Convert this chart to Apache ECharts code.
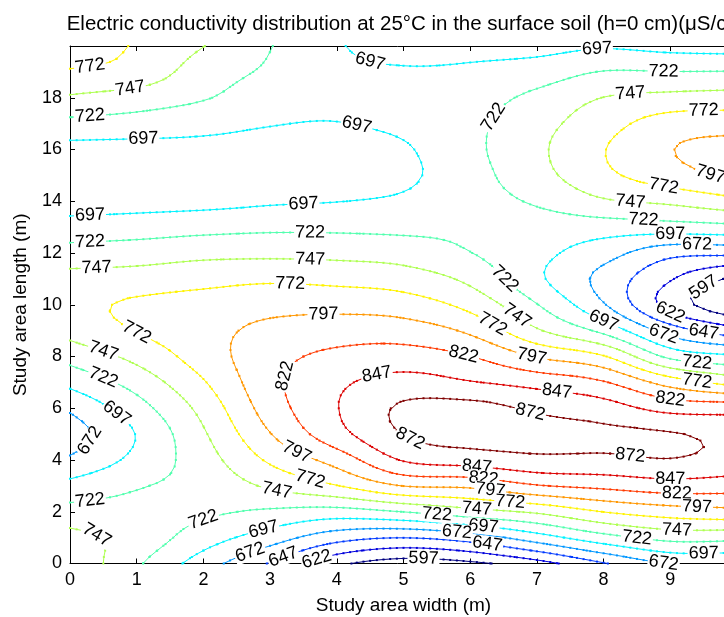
<!DOCTYPE html>
<html>
<head>
<meta charset="utf-8">
<script src="https://cdn.jsdelivr.net/npm/echarts/dist/echarts.min.js"></script>
<style>html,body{margin:0;padding:0;background:#fff}#chart{width:724px;height:617px}</style>
</head>
<body>
<div id="chart"></div>
<script>
// ---- data (values in µS/cm on a 1 m grid) ----
const xCoords = [0,1,2,3,4,5,6,7,8,9,10];
const yCoords = [0,1,2,3,4,5,6,7,8,9,10,11,12,13,14,15,16,17,18,19,20];
// each array: value at x = const, for y = 0..20
const zAtX0  = [768,755,731,705,676,660,676,704,731,755,764,755,732,707,686,679,689,715,744,769,794];
const zAtX1  = [726,737,730,720,704,698,712,732,754,773,776,758,735,710,688,681,689,711,736,762,769];
const zAtX2  = [684,709,726,730,736,744,755,770,784,788,782,764,740,714,690,684,691,704,724,735,747.5];
const zAtX3  = [645,684,718,751,776,796,809,815,813,804,788,768,741,717,694,686,690,698,708,718,723];
const zAtX4  = [603,657,712,771,807,838,846,842,828,810,789,765,740,717,696.5,688,690,696.5,702,702,699];
const zAtX5  = [585,647.5,722.5,797.5,849,872.5,876,856,833,809,784,759.5,736,716,701,692.5,694.5,702,706,699,690];
const zAtX6  = [592,659,738,802,858,882,880,848.5,822.5,792,764,741,722.5,717,713,713,716,716,712,701,690];
const zAtX7  = [612,685.5,751,820,866,880,868,838,795,750,723,702,704,711,725,738,742,738,728,709,688];
const zAtX8  = [645,712.5,772.5,828,866.5,877,858,824,774,715,674,664,682.5,709.5,744,766,771,762,747.5,723,694];
const zAtX9  = [673,730,784.5,835.5,871,874,838.5,786,716,660.5,612,624,655,711.5,752,786,796,784,754,722.5,688];
const zAtX10 = [675,729,790,833,862,862,836,761,700,630,575,590,653,715.5,765,803,806,787,757,723,685];
const contourLevels = [597,622,647,672,697,722,747,772,797,822,847,872];
// inline labels: [x (m), y (m), level]
const labelAnchors = [
 [0.30,19.25,772],[0.85,18.36,747],[0.33,17.24,722],[1.09,16.47,697],[4.53,19.32,697],[7.90,19.75,697],
 [8.91,18.98,722],[8.38,18.09,747],[9.45,17.51,772],[9.57,15.12,797],[8.91,14.46,772],[8.38,14.03,747],
 [8.62,13.30,722],[9.00,12.80,697],[9.43,12.41,672],[4.30,16.93,697],[6.34,17.12,722],[0.30,13.45,697],
 [3.52,13.84,697],[0.33,12.41,722],[3.57,12.68,722],[0.37,11.41,747],[3.57,11.72,747],[3.25,10.79,772],
 [1.02,8.90,772],[3.75,9.71,797],[6.57,10.95,722],[6.64,9.56,747],[6.34,9.09,772],[8.01,9.21,697],
 [8.91,8.71,672],[9.04,9.59,622],[9.45,8.44,647],[9.52,10.56,597],[0.55,8.17,747],[0.49,7.09,722],
 [0.70,6.00,697],[0.30,4.69,672],[3.36,7.16,822],[5.94,7.97,822],[6.91,7.97,797],[4.65,7.16,847],
 [7.32,6.43,847],[9.04,6.35,822],[9.36,7.66,722],[9.42,6.97,772],[6.93,5.81,872],[5.07,4.69,872],
 [8.44,4.00,872],[3.45,4.58,797],[3.57,3.38,772],[3.12,2.88,747],[6.12,3.84,847],[6.21,3.22,822],
 [6.33,2.88,797],[6.55,2.34,772],[6.12,2.10,747],[5.52,1.95,722],[6.19,1.49,697],[5.77,1.22,672],
 [6.27,0.83,647],[5.32,0.41,597],[3.67,0.25,622],[3.18,0.33,647],[2.67,0.56,672],[8.97,3.19,847],
 [9.13,2.53,822],[9.43,2.10,797],[9.06,1.10,747],[8.55,0.98,722],[9.48,0.33,697],[8.89,0.14,672],
 [0.27,2.45,722],[0.39,0.91,747],[1.98,1.76,722],[2.88,1.53,697]
];

// ---- layout ----
const GRID_LEFT = 70, GRID_TOP = 46, GRID_W = 667, GRID_H = 517.5;
const X_MIN = 0, X_MAX = 10, Y_MIN = 0, Y_MAX = 20;
const FONT = '"Liberation Sans", Arial, Helvetica, sans-serif';

const zCols = [zAtX0,zAtX1,zAtX2,zAtX3,zAtX4,zAtX5,zAtX6,zAtX7,zAtX8,zAtX9,zAtX10];
const nX = xCoords.length, nY = yCoords.length;
function Z(i, j) {
  if (i < 0) return 2 * Z(0, j) - Z(1, j);
  if (i > nX - 1) return 2 * Z(nX - 1, j) - Z(nX - 2, j);
  if (j < 0) return 2 * Z(i, 0) - Z(i, 1);
  if (j > nY - 1) return 2 * Z(i, nY - 1) - Z(i, nY - 2);
  return zCols[i][j];
}
function cr(p0, p1, p2, p3, t) {
  return p1 + 0.5 * t * (p2 - p0 + t * (2 * p0 - 5 * p1 + 4 * p2 - p3 + t * (3 * (p1 - p2) + p3 - p0)));
}
const dxG = xCoords[1] - xCoords[0], dyG = yCoords[1] - yCoords[0];
function sampleField(x, y) {
  const gx = (x - xCoords[0]) / dxG, gy = (y - yCoords[0]) / dyG;
  let i = Math.floor(gx), j = Math.floor(gy);
  if (i > nX - 2) i = nX - 2; if (j > nY - 2) j = nY - 2;
  const tx = gx - i, ty = gy - j;
  const r = [];
  for (let m = -1; m <= 2; m++) {
    r.push(cr(Z(i - 1, j + m), Z(i, j + m), Z(i + 1, j + m), Z(i + 2, j + m), tx));
  }
  return cr(r[0], r[1], r[2], r[3], ty);
}

const FX = [], FY = [];
for (let k = 0; k <= 100; k++) FX.push(xCoords[0] + k * (xCoords[nX - 1] - xCoords[0]) / 100);
for (let k = 0; k <= 80; k++) FY.push(yCoords[0] + k * (yCoords[nY - 1] - yCoords[0]) / 80);
const F = FY.map(y => FX.map(x => sampleField(x, y)));

function contour(level) {
  const pts = {}, adj = {};
  const above = v => v >= level;
  function pt(key, x1, y1, v1, x2, y2, v2) {
    if (!(key in pts)) { const t = (level - v1) / (v2 - v1); pts[key] = [x1 + t * (x2 - x1), y1 + t * (y2 - y1)]; }
    return key;
  }
  function seg(a, b) { (adj[a] = adj[a] || []).push(b); (adj[b] = adj[b] || []).push(a); }
  for (let j = 0; j < FY.length - 1; j++) {
    for (let i = 0; i < FX.length - 1; i++) {
      const x0 = FX[i], x1 = FX[i + 1], y0 = FY[j], y1 = FY[j + 1];
      const v00 = F[j][i], v10 = F[j][i + 1], v11 = F[j + 1][i + 1], v01 = F[j + 1][i];
      const e = {};
      if (above(v00) !== above(v10)) e.b = pt('h' + i + '_' + j, x0, y0, v00, x1, y0, v10);
      if (above(v10) !== above(v11)) e.r = pt('v' + (i + 1) + '_' + j, x1, y0, v10, x1, y1, v11);
      if (above(v01) !== above(v11)) e.t = pt('h' + i + '_' + (j + 1), x0, y1, v01, x1, y1, v11);
      if (above(v00) !== above(v01)) e.l = pt('v' + i + '_' + j, x0, y0, v00, x0, y1, v01);
      const ks = Object.keys(e);
      if (ks.length === 2) seg(e[ks[0]], e[ks[1]]);
      else if (ks.length === 4) {
        const c = (v00 + v10 + v11 + v01) / 4;
        if (above(v00) === above(c)) { seg(e.b, e.r); seg(e.t, e.l); }
        else { seg(e.l, e.b); seg(e.r, e.t); }
      }
    }
  }
  const visited = new Set(), lines = [];
  function walk(start) {
    const line = []; let cur = start;
    while (cur !== undefined && !visited.has(cur)) {
      visited.add(cur); line.push(pts[cur]);
      const nb = adj[cur].filter(k => !visited.has(k));
      if (nb.length === 0) {
        if (line.length > 2 && adj[cur].includes(start)) line.push(pts[start]);
        break;
      }
      cur = nb[0];
    }
    return line;
  }
  for (const k in adj) if (adj[k].length === 1 && !visited.has(k)) lines.push(walk(k));
  for (const k in adj) if (!visited.has(k)) lines.push(walk(k));
  return lines.filter(l => l.length > 1);
}

function jet(t) {
  const c = v => Math.round(255 * Math.max(0, Math.min(1, v)));
  const r = c(1.5 - Math.abs(4 * t - 3)), g = c(1.5 - Math.abs(4 * t - 2)), b = c(1.5 - Math.abs(4 * t - 1));
  return 'rgb(' + r + ',' + g + ',' + b + ')';
}

const SX = GRID_W / (X_MAX - X_MIN), SY = GRID_H / (Y_MAX - Y_MIN);
const series = [];
const linesByLevel = {};
contourLevels.forEach((L, k) => {
  const color = jet(k / (contourLevels.length - 1));
  const lines = contour(L);
  linesByLevel[L] = lines;
  lines.forEach(line => {
    series.push({
      type: 'line', data: line, silent: true, animation: false, z: 2,
      showSymbol: true, symbol: 'rect', symbolSize: 2,
      lineStyle: { color: color, width: 1 }, itemStyle: { color: color },
      emphasis: { disabled: true }, clip: true
    });
  });
});

const labelData = labelAnchors.map(([lx, ly, L]) => {
  let best = null, bd = Infinity;
  (linesByLevel[L] || []).forEach(line => {
    line.forEach((p, idx) => {
      const d = Math.hypot((p[0] - lx) * SX, (p[1] - ly) * SY);
      if (d < bd) { bd = d; best = { line, idx }; }
    });
  });
  let px = lx, py = ly, rot = 0;
  if (best && bd < 40) {
    const { line, idx } = best;
    px = line[idx][0]; py = line[idx][1];
    const a = line[Math.max(0, idx - 3)], b = line[Math.min(line.length - 1, idx + 3)];
    let ang = Math.atan2((b[1] - a[1]) * SY, (b[0] - a[0]) * SX) * 180 / Math.PI;
    if (ang > 90) ang -= 180; if (ang < -90) ang += 180;
    rot = ang;
  }
  return { value: [px, py], label: { rotate: rot, formatter: String(L) } };
});
series.push({
  type: 'scatter', data: labelData, symbolSize: 1, itemStyle: { color: 'rgba(0,0,0,0)' }, z: 5,
  silent: true, animation: false, clip: false,
  label: { show: true, position: 'inside', color: '#000', fontSize: 18, fontFamily: FONT,
           textBorderWidth: 0, textShadowBlur: 0, opacity: 1,
           backgroundColor: '#fff', padding: [-1, 1] }
});

const axisCommon = {
  axisLine: { show: true, lineStyle: { color: '#000', width: 1 } },
  axisTick: { show: true, inside: true, length: 5, lineStyle: { color: '#000' } },
  splitLine: { show: false }
};
const chart = echarts.init(document.getElementById('chart'), null, { renderer: 'canvas' });
chart.setOption({
  backgroundColor: '#fff',
  animation: false,
  title: {
    text: 'Electric conductivity distribution at 25°C in the surface soil (h=0 cm)(μS/cm)',
    left: GRID_LEFT + GRID_W / 2, top: 9, textAlign: 'center',
    textStyle: { fontSize: 20.5, fontWeight: 'normal', color: '#000', fontFamily: FONT }
  },
  grid: { left: GRID_LEFT, top: GRID_TOP, width: GRID_W, height: GRID_H, containLabel: false, outerBoundsMode: 'none' },
  xAxis: [
    Object.assign({ type: 'value', min: X_MIN, max: X_MAX, interval: 1, position: 'bottom',
      axisLabel: { color: '#000', fontSize: 18, fontFamily: FONT, margin: 8 },
      name: 'Study area width (m)', nameLocation: 'middle', nameGap: 33,
      nameTextStyle: { color: '#000', fontSize: 19, fontFamily: FONT } }, axisCommon),
    Object.assign({ type: 'value', min: X_MIN, max: X_MAX, interval: 1, position: 'top',
      axisLabel: { show: false } }, axisCommon)
  ],
  yAxis: [
    Object.assign({ type: 'value', min: Y_MIN, max: Y_MAX, interval: 2, position: 'left',
      axisLabel: { color: '#000', fontSize: 18, fontFamily: FONT, margin: 8, showMaxLabel: false },
      name: 'Study area length (m)', nameLocation: 'middle', nameGap: 40, nameRotate: 90,
      nameTextStyle: { color: '#000', fontSize: 19, fontFamily: FONT } }, axisCommon)
  ],
  series: series
});
</script>
</body>
</html>
